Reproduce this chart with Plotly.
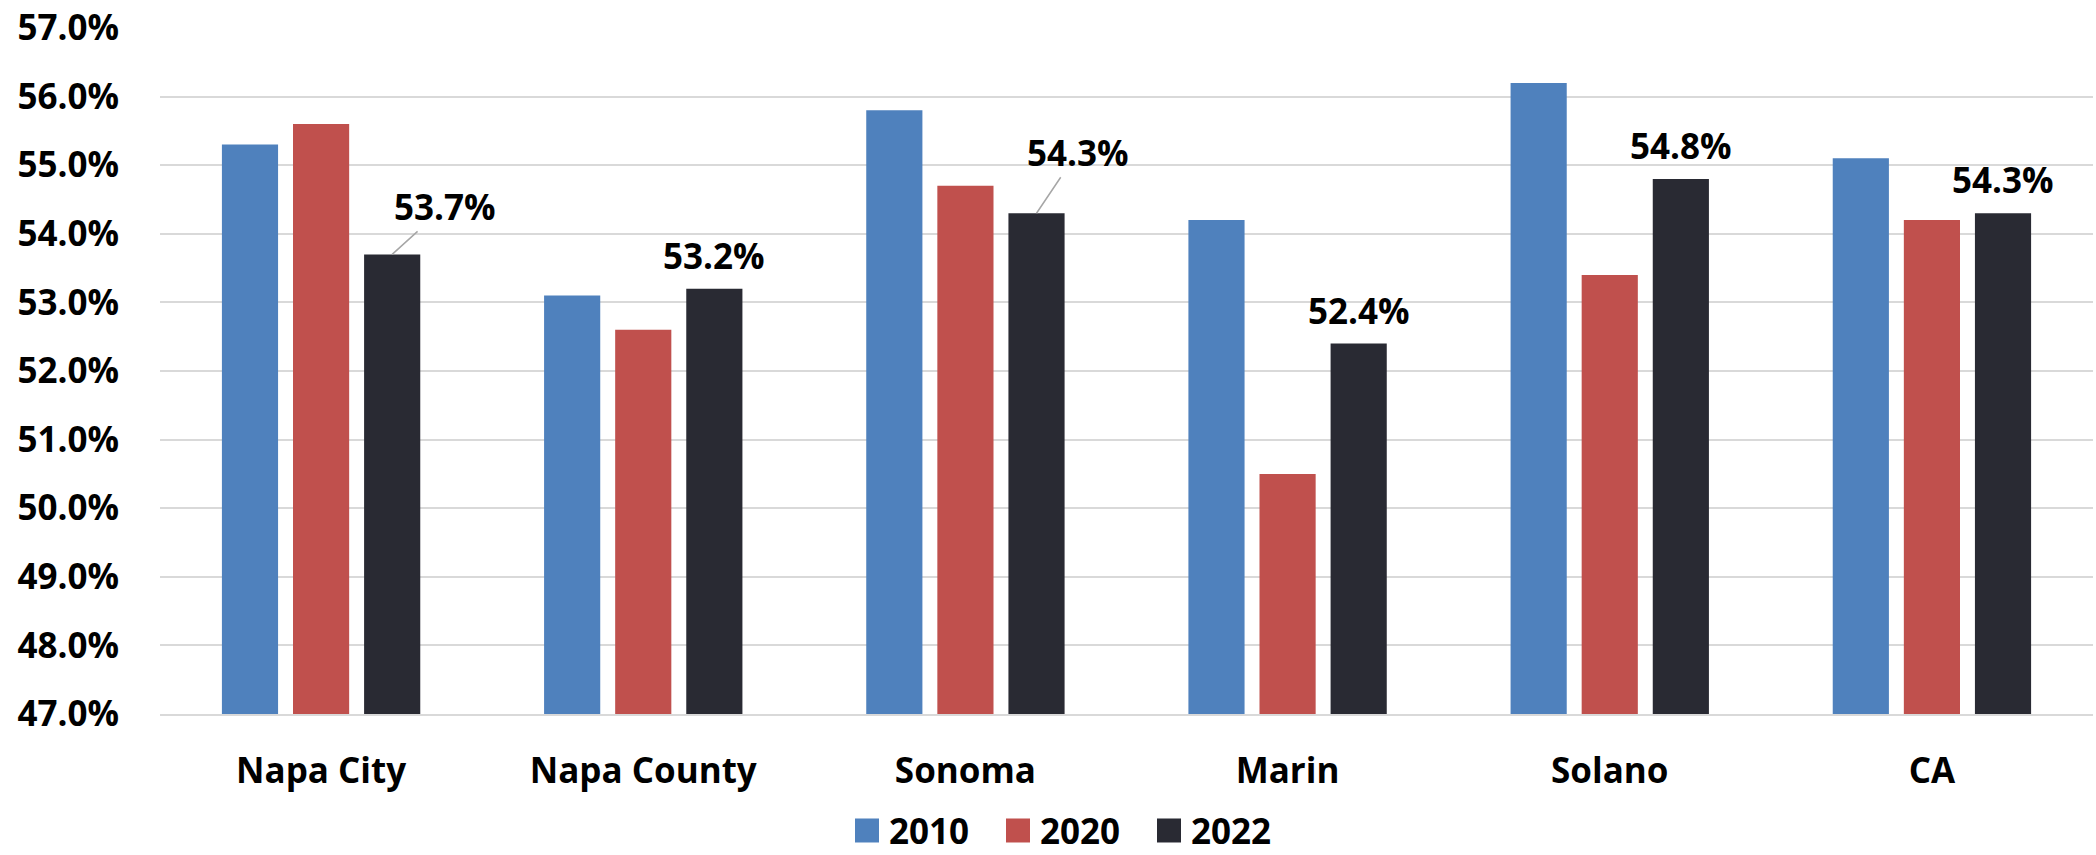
import plotly.graph_objects as go

categories = ["Napa City", "Napa County", "Sonoma", "Marin", "Solano", "CA"]
series_names = ["2010", "2020", "2022"]
v2010 = [55.3, 53.1, 55.8, 54.2, 56.2, 55.1]
v2020 = [55.6, 52.6, 54.7, 50.5, 53.4, 54.2]
v2022 = [53.7, 53.2, 54.3, 52.4, 54.8, 54.3]
colors = ["#4F81BD", "#C0504D", "#292A33"]
y_ticks = [47, 48, 49, 50, 51, 52, 53, 54, 55, 56, 57]

# label offsets (pixels) for the 2022 data labels that use leader lines
leader_offsets = {0: (53, -48), 2: (41, -61)}

W, H = 2096, 855
ML, MR, MT, MB = 160, 3, 25, 141
BARGAP = 0.338
GROUPGAP = 0.21
FONT = "Open Sans"
FS = 35

fig = go.Figure()
for name, vals, col in zip(series_names, [v2010, v2020, v2022], colors):
    fig.add_trace(go.Bar(
        x=categories, y=vals, name=name,
        marker=dict(color=col, line=dict(width=0)),
        showlegend=False,
        hoverinfo="x+y",
    ))

offset = (1 - BARGAP) / 3.0
annotations = []
for i, v in enumerate(v2022):
    txt = f"{v:.1f}%"
    if i in leader_offsets:
        ax, ay = leader_offsets[i]
        annotations.append(dict(
            x=i + offset, y=v, xref="x", yref="y", text=txt,
            showarrow=True, arrowhead=0, arrowwidth=1.5, arrowcolor="#A6A6A6",
            ax=ax, ay=ay, standoff=0,
            font=dict(family=FONT, size=FS, color="#000000", weight="bold"),
        ))
    else:
        annotations.append(dict(
            x=i + offset, y=v, xref="x", yref="y", text=txt,
            showarrow=False, yanchor="bottom", yshift=8,
            font=dict(family=FONT, size=FS, color="#000000", weight="bold"),
        ))

# custom legend
plot_w = W - ML - MR
plot_h = H - MT - MB
leg_py = 831
leg_y = (H - MB - leg_py) / plot_h
leg_sq_px = [867, 1018, 1169]
shapes = []
for name, col, px in zip(series_names, colors, leg_sq_px):
    xp = (px - ML) / plot_w
    shapes.append(dict(
        type="rect", xref="paper", yref="paper",
        xsizemode="pixel", ysizemode="pixel",
        xanchor=xp, yanchor=leg_y,
        x0=-12, x1=12, y0=-12, y1=12,
        fillcolor=col, line=dict(width=0),
    ))
    annotations.append(dict(
        x=xp, y=leg_y, xref="paper", yref="paper", text=name,
        showarrow=False, xanchor="left", yanchor="middle", xshift=20,
        font=dict(family=FONT, size=FS, color="#000000", weight="bold"),
    ))

fig.update_layout(
    width=W, height=H,
    margin=dict(l=ML, r=MR, t=MT, b=MB),
    paper_bgcolor="white", plot_bgcolor="white",
    barmode="group", bargap=BARGAP, bargroupgap=GROUPGAP,
    font=dict(family=FONT, size=FS, color="#000000", weight="bold"),
    annotations=annotations, shapes=shapes,
    showlegend=False,
)
fig.update_xaxes(
    type="category", showgrid=False, showline=True, linecolor="#D9D9D9", linewidth=1.5,
    ticks="", ticklabelstandoff=25,
    tickfont=dict(family=FONT, size=FS, color="#000000", weight="bold"),
)
fig.update_yaxes(
    range=[46.9999, 57.0001], tickvals=y_ticks, ticktext=[f"{t:.1f}%" for t in y_ticks],
    showgrid=True, gridcolor="#D9D9D9", gridwidth=1.5, zeroline=False,
    showline=False, ticks="", ticklabelstandoff=40,
    tickfont=dict(family=FONT, size=FS, color="#000000", weight="bold"),
)

fig.write_html("out.html")
